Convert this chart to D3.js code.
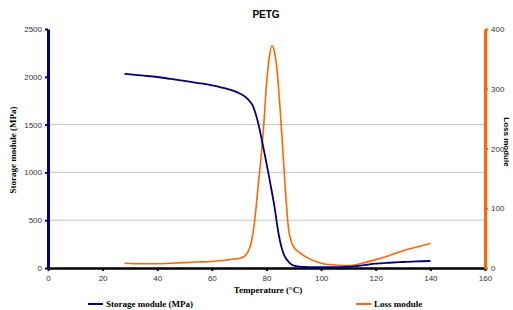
<!DOCTYPE html>
<html>
<head>
<meta charset="utf-8">
<script src="https://cdn.jsdelivr.net/npm/d3@7"></script>
<style>
  body { margin: 0; background: #fff; }
  svg { display: block; }
</style>
</head>
<body>
<div id="container"></div>
<script>
/* DATA */
const temperature = [28, 35, 40, 45, 50, 55, 60, 65, 68, 70, 72, 74, 75, 76, 77, 78, 79, 80, 81, 82, 83, 84, 85, 86, 87, 88, 89, 90, 92, 95, 98, 100, 105, 110, 115, 120, 125, 130, 135, 140];
const storageModule = [2030, 2012, 1998, 1978, 1958, 1935, 1910, 1878, 1852, 1828, 1795, 1740, 1695, 1615, 1510, 1380, 1240, 1095, 945, 790, 630, 430, 275, 170, 105, 68, 40, 25, 14, 10, 8, 8, 8, 14, 28, 45, 55, 63, 70, 73];
const lossModule = [8, 7, 7, 8, 9, 10, 11, 13, 15, 16, 20, 36, 57, 93, 140, 185, 240, 308, 352, 372, 360, 325, 265, 195, 125, 68, 45, 35, 26, 17, 11, 8, 5, 4, 8, 14, 21, 29, 35, 41];
const xTicks = [0, 20, 40, 60, 80, 100, 120, 140, 160];
const leftTicks = [0, 500, 1000, 1500, 2000, 2500];
const rightTicks = [0, 100, 200, 300, 400];
const gridValues = [500, 1000, 1500];

/* CONSTANTS AND GLOBALS */
const width = 513, height = 310,
  margin = { top: 29, bottom: 42, left: 48, right: 28 };

const svg = d3.select("#container")
  .append("svg")
  .attr("width", width)
  .attr("height", height);

const x = d3.scaleLinear().domain([0, 160]).range([margin.left, width - margin.right]);
const yL = d3.scaleLinear().domain([0, 2500]).range([height - margin.bottom, margin.top]);
const yR = d3.scaleLinear().domain([0, 400]).range([height - margin.bottom, margin.top]);

// gridlines
svg.selectAll("line.grid")
  .data(gridValues)
  .join("line")
  .attr("class", "grid")
  .attr("x1", x(0)).attr("x2", x(160))
  .attr("y1", d => yL(d)).attr("y2", d => yL(d))
  .attr("stroke", "#c4c4c4")
  .attr("stroke-width", 1);

// axes
const styleAxis = (g, color, w) => {
  g.select(".domain").attr("stroke", color).attr("stroke-width", w);
  g.selectAll(".tick line").attr("stroke", color).attr("stroke-width", 2);
  g.selectAll(".tick text")
    .attr("fill", "#333")
    .style("font-family", "Liberation Sans, Arial, sans-serif")
    .style("font-size", "8px");
};

svg.append("g")
  .attr("transform", `translate(0,${yL(0)})`)
  .call(d3.axisBottom(x).tickValues(xTicks).tickFormat(d3.format("d")).tickSize(3).tickSizeOuter(0).tickPadding(4))
  .call(g => styleAxis(g, "#000", 2.5));

svg.append("g")
  .attr("transform", `translate(${x(0)},0)`)
  .call(d3.axisLeft(yL).tickValues(leftTicks).tickFormat(d3.format("d")).tickSize(3).tickSizeOuter(0).tickPadding(3))
  .call(g => styleAxis(g, "#000080", 3));

svg.append("g")
  .attr("transform", `translate(${x(160)},0)`)
  .call(d3.axisRight(yR).tickValues(rightTicks).tickFormat(d3.format("d")).tickSize(3).tickSizeOuter(0).tickPadding(3))
  .call(g => styleAxis(g, "#ff6600", 3));

// lines
const storageLine = d3.line()
  .x((d, i) => x(temperature[i]))
  .y(d => yL(d))
  .curve(d3.curveMonotoneX);

const lossLine = d3.line()
  .x((d, i) => x(temperature[i]))
  .y(d => yR(d))
  .curve(d3.curveMonotoneX);

svg.append("path")
  .attr("d", lossLine(lossModule))
  .attr("fill", "none")
  .attr("stroke", "#ff6600")
  .attr("stroke-width", 1.6);

svg.append("path")
  .attr("d", storageLine(storageModule))
  .attr("fill", "none")
  .attr("stroke", "#000080")
  .attr("stroke-width", 1.8);

// TITLE AND LABELS
svg.append("text")
  .attr("x", 266).attr("y", 18)
  .attr("text-anchor", "middle")
  .style("font-family", "Liberation Sans, Arial, sans-serif")
  .style("font-weight", "bold")
  .style("font-size", "10px")
  .text("PETG");

svg.append("text")
  .attr("transform", "translate(16,150) rotate(-90)")
  .attr("text-anchor", "middle")
  .style("font-family", "Liberation Serif, Times New Roman, serif")
  .style("font-weight", "bold")
  .style("font-size", "9px")
  .text("Storage module (MPa)");

svg.append("text")
  .attr("transform", "translate(504,142) rotate(90)")
  .attr("text-anchor", "middle")
  .style("font-family", "Liberation Sans, Arial, sans-serif")
  .style("font-weight", "bold")
  .style("font-size", "8px")
  .text("Loss module");

svg.append("text")
  .attr("x", 268).attr("y", 293)
  .attr("text-anchor", "middle")
  .style("font-family", "Liberation Serif, Times New Roman, serif")
  .style("font-weight", "bold")
  .style("font-size", "9px")
  .text("Temperature (°C)");

// LEGEND
const legend = [
  { name: "Storage module (MPa)", color: "#000080", x: 88 },
  { name: "Loss module", color: "#ff6600", x: 356 }
];
const lg = svg.selectAll("g.legend")
  .data(legend)
  .join("g")
  .attr("class", "legend")
  .attr("transform", d => `translate(${d.x},304)`);
lg.append("line")
  .attr("x1", 0).attr("x2", 15)
  .attr("stroke", d => d.color)
  .attr("stroke-width", 2);
lg.append("text")
  .attr("x", 18).attr("y", 3)
  .style("font-family", "Liberation Serif, Times New Roman, serif")
  .style("font-weight", "bold")
  .style("font-size", "9px")
  .text(d => d.name);
</script>
</body>
</html>
